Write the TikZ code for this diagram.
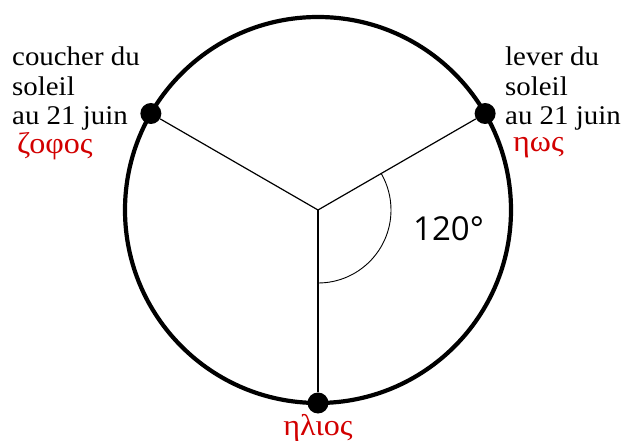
\documentclass[tikz,border=0pt]{standalone}
\usepackage{fontspec}
\setmainfont{Liberation Serif}[FakeStretch=1.07]
\newfontfamily\anglefont{Open Sans}
\usetikzlibrary{positioning}
\definecolor{greekred}{RGB}{210,0,0}

\begin{document}
\begin{tikzpicture}[x=1pt,y=1pt,
		spoke/.style={line width=1.2pt},
		sun/.style={circle, fill=black, inner sep=0pt, minimum size=21pt},
		lab/.style={align=left, anchor=north west, inner sep=0pt, font=\fontsize{27}{29.5}\selectfont},
		greek/.style={text=greekred, inner sep=0pt, anchor=base west, font=\fontsize{30}{30}\selectfont}
		]
		\useasboundingbox (-318,-231) rectangle (303,210);
		
		% Centre and horizon circle
		\coordinate (O) at (0,0);
		\draw[line width=4.2pt] (O) circle (193);
		
		% Sun positions
		\node[sun] (lever) at (30:193) {};
		\node[sun] (coucher) at (150:193) {};
		\node[sun] (midi) at (-90:193) {};
		
		% Spokes
		\draw[spoke] (O) -- (lever);
		\draw[spoke] (O) -- (coucher);
		\draw[spoke] (O) -- (midi);
		
		% Angle
		\draw[line width=0.9pt] (O) ++(-90:73) arc (-90:30:73);
		\node[anchor=base west, inner sep=0pt, font=\anglefont\fontsize{33}{33}\selectfont] (angle) at (95,-31) {120°};
		
		% Labels
		\node[lab] (coucherlab) at (-306,163) {coucher du\\soleil\\au 21 juin};
		\node[lab] (leverlab) at (187,163) {lever du\\soleil\\au 21 juin};
		\node[greek] (zofos) at (-301,56) {ζοφος};
		\node[greek] (eos) at (195,58) {ηως};
		\node[greek, anchor=base] (helios) at (0,-225) {ηλιος};
		
	\end{tikzpicture}
\end{document}
